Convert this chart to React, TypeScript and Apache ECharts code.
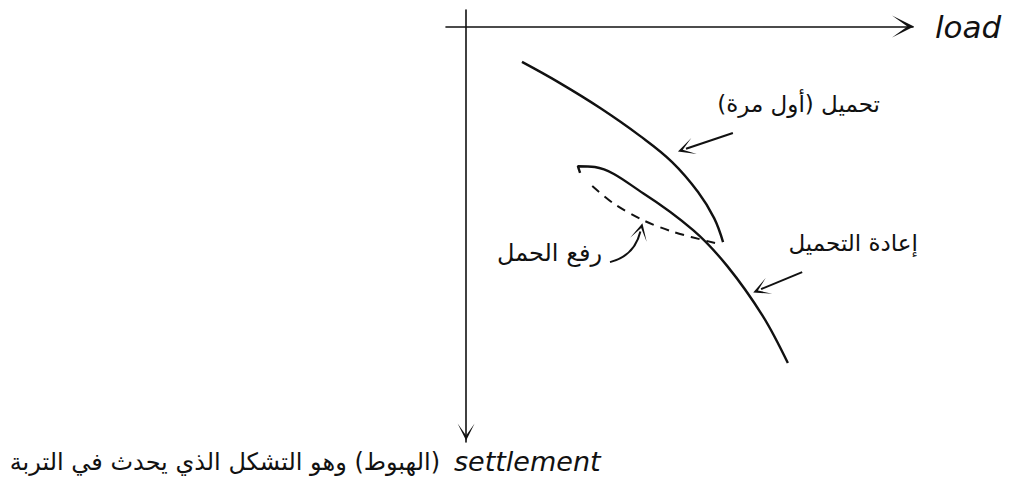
import React, { useEffect, useRef } from "react";
import * as echarts from "echarts";

// Load–settlement curves (load along x, settlement downward along y)
const FIRST_LOADING: [number, number][] = [
  [12.5, 8.5], [21.0, 13.6], [30.0, 19.6], [38.9, 26.3],
  [46.1, 32.6], [51.9, 39.8], [55.5, 46.1], [57.5, 51.9],
];
const UNLOADING: [number, number][] = [
  [55.7, 52.1], [46.3, 49.4], [39.6, 46.6], [32.9, 42.5], [27.7, 37.9],
];
const RELOADING: [number, number][] = [
  [25.5, 35.2], [25.0, 33.6], [28.8, 33.8], [39.6, 40.1],
  [50.8, 49.0], [58.4, 57.6], [66.4, 69.7], [72.0, 81.0],
];

// Pointer arrows from each label to its curve
const POINTER_FROM: [number, number][] = [[59.7, 25.6], [75.2, 59.1], [32.2, 56.7]];
const POINTER_TO: [number, number][] = [[49.2, 29.4], [66.0, 63.2], [39.0, 49.3]];
const POINTER_CURVE: number[] = [0, 0, -0.3];

// Axis extents (small overshoot past the origin, as in the sketch)
const X_MIN = -4.5;
const X_MAX = 100;
const Y_MIN = -4;
const Y_MAX = 100;

const RLM = "\u200F";
const LABEL_FIRST = "تحميل (أول مرة)";
const LABEL_RELOAD = "إعادة التحميل";
const LABEL_UNLOAD = "رفع الحمل";
const LABEL_SETTLEMENT_AR = "(الهبوط) وهو التشكل الذي يحدث في التربة";
const X_NAME = "load";
const Y_NAME = "settlement";

const CHEVRON = "path://M0,20 L10,0 L20,20 L10,6 Z";
const INK = "#111";

export default function App() {
  const ref = useRef<HTMLDivElement>(null);

  useEffect(() => {
    document.body.style.margin = "0";
    if (!ref.current) return;
    const chart = echarts.init(ref.current, null, { renderer: "svg" });

    const curveStyle = { color: INK, width: 2.4 };
    const arFont = { fontFamily: "DejaVu Sans", fill: INK };

    chart.setOption({
      animation: false,
      backgroundColor: "#fff",
      grid: { left: 446, right: 96, top: 10, bottom: 56, containLabel: false },
      xAxis: {
        type: "value",
        min: X_MIN,
        max: X_MAX,
        name: X_NAME,
        nameLocation: "end",
        nameGap: 22,
        nameTextStyle: {
          fontFamily: "DejaVu Sans",
          fontStyle: "italic",
          fontSize: 31,
          color: INK,
          verticalAlign: "middle",
          padding: [0, 0, 4, 0],
        },
        axisLine: {
          onZero: true,
          symbol: ["none", CHEVRON],
          symbolSize: [22, 26],
          symbolOffset: [0, -10],
          lineStyle: { color: INK, width: 1.6 },
        },
        axisTick: { show: false },
        axisLabel: { show: false },
        splitLine: { show: false },
      },
      yAxis: {
        type: "value",
        inverse: true,
        min: Y_MIN,
        max: Y_MAX,
        axisLine: {
          onZero: true,
          symbol: [CHEVRON, "none"],
          symbolSize: [17, 20],
          symbolOffset: [10, 0],
          lineStyle: { color: INK, width: 1.6 },
        },
        axisTick: { show: false },
        axisLabel: { show: false },
        splitLine: { show: false },
      },
      series: [
        {
          name: "first loading",
          type: "line",
          data: FIRST_LOADING,
          smooth: 0.4,
          symbol: "none",
          lineStyle: curveStyle,
        },
        {
          name: "unloading",
          type: "line",
          data: UNLOADING,
          smooth: 0.3,
          symbol: "none",
          lineStyle: { color: INK, width: 2, type: [9, 7] },
        },
        {
          name: "reloading",
          type: "line",
          data: RELOADING,
          smooth: 0.35,
          symbol: "none",
          lineStyle: curveStyle,
        },
        {
          name: "pointers",
          type: "lines",
          coordinateSystem: "cartesian2d",
          symbol: ["none", CHEVRON],
          symbolSize: 17,
          lineStyle: { color: INK, width: 2, opacity: 1 },
          data: POINTER_FROM.map((from, i) => ({
            coords: [from, POINTER_TO[i]],
            lineStyle: { curveness: POINTER_CURVE[i] },
          })),
        },
      ],
      graphic: [
        {
          type: "text",
          x: 880,
          y: 104,
          style: { ...arFont, text: RLM + LABEL_FIRST + RLM, fontSize: 23, align: "right", verticalAlign: "middle" },
        },
        {
          type: "text",
          x: 918,
          y: 243,
          style: { ...arFont, text: RLM + LABEL_RELOAD + RLM, fontSize: 23, align: "right", verticalAlign: "middle" },
        },
        {
          type: "text",
          x: 602,
          y: 253,
          style: { ...arFont, text: RLM + LABEL_UNLOAD + RLM, fontSize: 24, align: "right", verticalAlign: "middle" },
        },
        {
          type: "text",
          x: 440,
          y: 462,
          style: { ...arFont, text: RLM + LABEL_SETTLEMENT_AR + RLM, fontSize: 24, align: "right", verticalAlign: "middle" },
        },
        {
          type: "text",
          x: 454,
          y: 461,
          style: {
            text: Y_NAME,
            fontFamily: "DejaVu Sans",
            fontStyle: "italic",
            fontSize: 27,
            fill: INK,
            align: "left",
            verticalAlign: "middle",
          },
        },
      ],
    });

    return () => chart.dispose();
  }, []);

  return <div ref={ref} style={{ width: 1009, height: 498 }} />;
}
